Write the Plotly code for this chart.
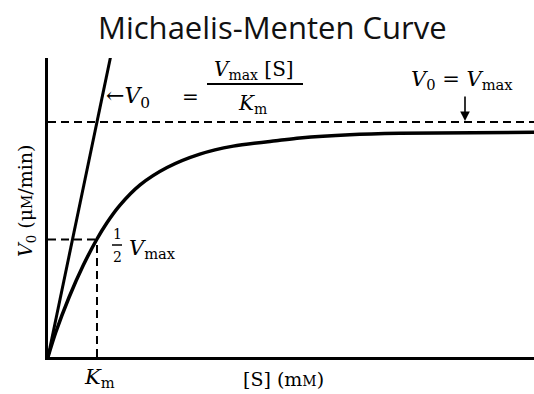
import plotly.graph_objects as go

# Data (units: [S] in multiples of Km, V0 in multiples of Vmax)
s_curve = [0, 0.157, 0.43, 0.72, 1.0, 1.2, 1.47, 1.88, 2.43, 3.10, 3.78, 4.73, 5.14, 6.16, 7.18, 9.92]
v_curve = [0, 0.104, 0.254, 0.390, 0.502, 0.570, 0.646, 0.732, 0.806, 0.863, 0.897, 0.922,
           0.932, 0.946, 0.952, 0.956]
s_initial = [0, 1.3]
v_initial = [0, 1.3]
km = 1.0
vmax = 1.0
half_vmax = 0.5
x_max = 9.92
y_max = 1.272

# layout geometry (pixels)
W, H = 534, 394
L, R, T, B = 48, 0, 58, 37
PW, PH = W - L - R, H - T - B


def px(x):
    return (x - L) / PW


def py(y):
    return (H - B - y) / PH


SERIF = "DejaVu Serif"
fig = go.Figure()

dash = "8px,5px"
fig.add_trace(go.Scatter(x=[0, x_max], y=[vmax, vmax], mode="lines",
                         line=dict(color="black", width=2, dash=dash), hoverinfo="skip"))
fig.add_trace(go.Scatter(x=[0, km], y=[half_vmax, half_vmax], mode="lines",
                         line=dict(color="black", width=2, dash=dash), hoverinfo="skip"))
fig.add_trace(go.Scatter(x=[km, km], y=[0, half_vmax], mode="lines",
                         line=dict(color="black", width=2, dash=dash), hoverinfo="skip"))
fig.add_trace(go.Scatter(x=s_initial, y=v_initial, mode="lines",
                         line=dict(color="black", width=3), hoverinfo="skip"))
fig.add_trace(go.Scatter(x=s_curve, y=v_curve, mode="lines",
                         line=dict(color="black", width=3.5, shape="spline", smoothing=0.8),
                         hoverinfo="skip"))

ann = []


def text(x, y, t, size, xanchor="center", yanchor="middle", family=SERIF, angle=0):
    ann.append(dict(x=px(x), y=py(y), xref="paper", yref="paper", text=t,
                    showarrow=False, xanchor=xanchor, yanchor=yanchor,
                    textangle=angle,
                    font=dict(family=family, size=size, color="black")))


# equation near the initial-rate line
text(104, 97, "←<i>V</i><sub>0</sub>", 22, xanchor="left")
text(190, 97, "=", 20)
text(254, 70, "<i>V</i><sub>max</sub> [S]", 20)
text(252, 104, "<i>K</i><sub>m</sub>", 20)
# V0 = Vmax
text(462, 80, "<i>V</i><sub>0</sub> = <i>V</i><sub>max</sub>", 21)
# 1/2 Vmax
text(117, 234, "1", 14)
text(117, 257, "2", 14)
text(127, 249, "<i>V</i><sub>max</sub>", 21, xanchor="left")
# axis labels
text(99, 378, "<i>K</i><sub>m</sub>", 21)
text(283, 379, "[S] (m<span style='font-size:14px'>M</span>)", 19)
text(26, 201, "<i>V</i><sub>0</sub> (μ<span style='font-size:14px'>M</span>/min)", 19, angle=-90)

# down arrow toward Vmax line
ann.append(dict(x=px(465), y=py(121), xref="paper", yref="paper", text="",
                showarrow=True, ax=0, ay=-26, arrowhead=2, arrowsize=1.2,
                arrowwidth=1.6, arrowcolor="black"))

shapes = [
    dict(type="line", xref="paper", yref="paper", x0=px(207), x1=px(303),
         y0=py(84), y1=py(84), line=dict(color="black", width=2)),
    dict(type="line", xref="paper", yref="paper", x0=px(112), x1=px(122),
         y0=py(245), y1=py(245), line=dict(color="black", width=1.5)),
]

fig.update_layout(
    width=W, height=H,
    margin=dict(l=L, r=R, t=T, b=B),
    paper_bgcolor="white", plot_bgcolor="white",
    showlegend=False,
    title=dict(text="Michaelis-Menten Curve", x=0.51, xref="container", xanchor="center",
               y=1 - 28 / H, yref="container", yanchor="middle",
               font=dict(family="Open Sans", size=31, color="#111")),
    xaxis=dict(range=[0, x_max], showline=True, linewidth=2.5, linecolor="black",
               showgrid=False, zeroline=False, showticklabels=False, ticks=""),
    yaxis=dict(range=[0, y_max], showline=True, linewidth=2.5, linecolor="black",
               showgrid=False, zeroline=False, showticklabels=False, ticks=""),
    annotations=ann,
    shapes=shapes,
)

fig.write_html("out.html", config={"displayModeBar": False},
               post_script="document.body.style.margin='0';")
